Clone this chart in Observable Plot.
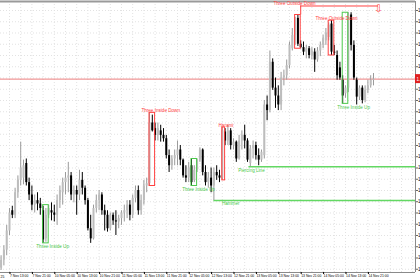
<!DOCTYPE html>
<html><head><meta charset="utf-8">
<script src="https://cdn.jsdelivr.net/npm/d3@7"></script>
<script src="https://cdn.jsdelivr.net/npm/@observablehq/plot@0.6"></script>
<style>html,body{margin:0;padding:0;background:#fff;overflow:hidden}</style>
</head><body><div id="chart"></div>
<script>
// Hourly OHLC, prices in 1/10000 units (pips)
const openPips  = [12331,12338,12347,12364,12382,12378,12398,12409,12411,12424,12407,12396,12387,12391,12388,12382,12357,12378,12382,12380,12378,12391,12398,12407,12411,12413,12396,12400,12396,12409,12402,12391,12366,12357,12384,12391,12396,12382,12378,12366,12378,12373,12372,12375,12380,12382,12387,12378,12393,12400,12382,12391,12404,12406,12460,12455,12449,12453,12449,12446,12431,12422,12428,12431,12436,12427,12413,12411,12422,12409,12418,12427,12436,12416,12407,12411,12404,12416,12413,12411,12452,12444,12453,12440,12443,12428,12444,12449,12444,12424,12437,12440,12431,12427,12431,12476,12471,12514,12491,12484,12476,12500,12502,12511,12526,12538,12553,12530,12527,12523,12526,12520,12523,12516,12524,12529,12533,12536,12548,12523,12520,12509,12498,12486,12491,12556,12529,12498,12483,12491,12480,12489,12493,12498];
const highPips  = [12342,12351,12369,12384,12386,12402,12413,12443,12427,12428,12411,12404,12396,12398,12393,12386,12384,12387,12389,12387,12396,12404,12411,12416,12425,12416,12404,12404,12418,12416,12404,12393,12378,12387,12396,12400,12398,12387,12382,12380,12380,12382,12378,12382,12387,12391,12391,12396,12404,12404,12396,12409,12411,12469,12467,12460,12460,12458,12455,12449,12436,12431,12436,12444,12440,12428,12422,12425,12428,12422,12428,12438,12437,12422,12416,12420,12420,12422,12418,12456,12455,12458,12455,12446,12444,12449,12453,12458,12446,12440,12444,12443,12437,12436,12480,12484,12524,12517,12500,12493,12505,12507,12516,12532,12544,12554,12556,12533,12532,12529,12528,12527,12526,12527,12532,12538,12544,12549,12551,12529,12524,12514,12502,12493,12558,12558,12533,12500,12493,12493,12493,12498,12502,12504];
const lowPips   = [12329,12333,12342,12360,12375,12375,12393,12404,12405,12404,12391,12382,12380,12382,12378,12353,12354,12375,12373,12372,12369,12384,12387,12396,12398,12391,12389,12378,12391,12396,12387,12364,12353,12356,12380,12382,12378,12364,12363,12364,12369,12360,12366,12369,12372,12375,12373,12375,12389,12378,12378,12387,12398,12404,12452,12444,12444,12443,12443,12428,12416,12418,12422,12422,12422,12411,12407,12407,12404,12407,12416,12425,12413,12404,12402,12398,12391,12409,12407,12409,12440,12440,12436,12436,12425,12427,12436,12437,12425,12421,12428,12427,12422,12425,12428,12462,12469,12489,12473,12471,12471,12493,12498,12508,12524,12529,12528,12526,12520,12517,12517,12516,12505,12514,12519,12526,12529,12533,12520,12520,12498,12498,12477,12482,12487,12524,12498,12476,12480,12477,12478,12486,12491,12493];
const closePips = [12338,12347,12364,12380,12378,12398,12409,12420,12422,12407,12396,12387,12391,12388,12384,12356,12378,12384,12380,12378,12391,12400,12407,12411,12413,12396,12400,12396,12409,12402,12391,12366,12357,12384,12391,12396,12382,12378,12366,12378,12373,12372,12375,12380,12382,12387,12378,12393,12400,12382,12391,12404,12406,12460,12453,12449,12455,12449,12446,12431,12422,12428,12431,12436,12427,12413,12411,12420,12407,12418,12427,12436,12416,12407,12411,12404,12416,12413,12411,12453,12444,12453,12440,12443,12428,12444,12449,12444,12427,12437,12440,12431,12427,12434,12476,12471,12514,12491,12484,12476,12500,12502,12511,12529,12538,12551,12530,12527,12523,12526,12520,12524,12516,12524,12529,12535,12540,12547,12523,12522,12502,12500,12484,12491,12556,12529,12500,12483,12491,12480,12489,12493,12498,12499];

const timeLabels = ["7 Nov 13:00","7 Nov 21:00","10 Nov 05:00","10 Nov 13:00","10 Nov 21:00","11 Nov 05:00","11 Nov 13:00","11 Nov 21:00","12 Nov 05:00","12 Nov 13:00","12 Nov 21:00","13 Nov 05:00","13 Nov 13:00","13 Nov 21:00","14 Nov 05:00","14 Nov 13:00","14 Nov 21:00"];
const timeLabelBars = [3,11,19,27,35,43,51,59,67,75,83,91,99,107,115,123,131];
const gridBars = [3,7,11,15,19,23,27,31,35,39,43,47,51,55,59,63,67,71,75,79,83,87,91,95,99,103,107,111,115,119,123,127,131,135,139,143,147];
const priceTicks = [1.2560,1.2550,1.2540,1.2530,1.2520,1.2510,1.2500,1.2490,1.2480,1.2470,1.2460,1.2450,1.2440,1.2430,1.2420,1.2410,1.2400,1.2390,1.2380,1.2370,1.2360,1.2350,1.2340,1.2330];
const currentPrice = 1.2499;

const patternNames = ["Three Inside Up","Three Inside Down","Three Inside Up","Harami","Three Outside Down","Three Outside Down","Three Inside Up"];
const patternStart = [15,53,68,79,105,117,122];
const patternEnd   = [17,55,70,80,107,119,124];
const patternKind  = ["bull","bear","bull","bear","bear","bear","bull"];
const patternLabelAt = [18.4,57,70.5,80.3,104.8,119.8,125.9];

const levelNames = ["Hammer","Piercing Line"];
const levelFrom = [76,88.5];
const levelPips = [12391,12421];
const levelLabelAt = [82,89.4];

const arrowLine = {from:107, to:134.8, price:1.2564};

const RED = "#ff4040", GREEN = "#4cc94c";
const bars = openPips.map((o,i)=>({i, o:o/1e4, h:highPips[i]/1e4, l:lowPips[i]/1e4, c:closePips[i]/1e4, up: closePips[i] >= o}));
const patterns = patternNames.map((name,k)=>{
  const s = patternStart[k], e = patternEnd[k];
  const hi = d3.max(highPips.slice(s,e+1))/1e4;
  return {name, s, e, kind: patternKind[k], at: patternLabelAt[k],
    hi, lo: d3.min(lowPips.slice(s,e+1))/1e4,
    labelY: k === 4 ? arrowLine.price : hi,
    color: patternKind[k]==="bull" ? GREEN : RED};
});
const levels = levelNames.map((name,k)=>({name, from: levelFrom[k], price: levelPips[k]/1e4, at: levelLabelAt[k]}));
const labelMap = new Map(timeLabelBars.map((b,k)=>[b,timeLabels[k]]));
const XMAX = 148.0;

const chart = Plot.plot({
  width: 420, height: 280,
  marginLeft: 0, marginRight: 5, marginTop: 1, marginBottom: 8,
  style: {fontFamily: "Liberation Sans, Arial, sans-serif", background: "#fff"},
  x: {domain: [-0.214, XMAX], axis: null},
  y: {domain: [1.23271, 1.25680], axis: null},
  marks: [
    Plot.ruleY(priceTicks, {stroke: "#e2e2e2", strokeDasharray: "1,2"}),
    Plot.ruleX(gridBars, {stroke: "#e2e2e2", strokeDasharray: "1,2"}),
    Plot.ruleY([1.25680], {stroke: "#9a9a9a", strokeWidth: 2}),
    Plot.ruleX([XMAX], {stroke: "#8a8a8a"}),
    Plot.ruleY([1.23271], {stroke: "#8a8a8a"}),
    Plot.ruleY([currentPrice], {stroke: "#ee7f7f", strokeWidth: 1}),
    Plot.ruleY(levels, {y: "price", x1: "from", x2: XMAX, stroke: "#63d863", strokeWidth: 1.5}),
    Plot.ruleX(bars, {x: "i", y1: "l", y2: "h", stroke: d => d.up ? "#9a9a9a" : "#000", strokeWidth: 1}),
    Plot.ruleX(bars, {x: "i", y1: "o", y2: "c", stroke: d => d.up ? "#bdbdbd" : "#000", strokeWidth: 2}),
    Plot.rect(patterns, {x1: "s", x2: "e", y1: "lo", y2: "hi", fill: "none", stroke: "color", strokeWidth: 1}),
    Plot.text(patterns.filter(p => p.kind === "bull"), {x: "at", y: "lo", dy: 1.5, lineAnchor: "top", text: "name", fill: "color", fontSize: 4.6}),
    Plot.text(patterns.filter(p => p.kind === "bear"), {x: "at", y: "labelY", dy: -0.6, lineAnchor: "bottom", text: "name", fill: "color", fontSize: 4.6}),
    Plot.text(levels, {x: "at", y: "price", dy: 1.5, text: "name", fill: GREEN, fontSize: 4.6, lineAnchor: "top"}),
    Plot.ruleX([arrowLine], {x: "from", y1: patterns[4].hi, y2: "price", stroke: RED}),
    Plot.ruleY([arrowLine], {y: "price", x1: "from", x2: "to", stroke: RED}),
    Plot.text([arrowLine], {x: "to", y: "price", text: d => "⇩", fill: RED, fontSize: 10, fontFamily: "DejaVu Sans", lineAnchor: "top", dy: -1}),
    Plot.axisY(priceTicks, {anchor: "right", tickSize: 2, tickPadding: 0.5, fontSize: 4.5, stroke: "#666", tickFormat: d => d.toFixed(4)}),
    Plot.axisX(timeLabelBars, {anchor: "bottom", tickSize: 2, tickPadding: 0.5, fontSize: 3.4, textAnchor: "start", dx: 0.5, tickFormat: d => labelMap.get(d)}),
    Plot.text(["25"], {frameAnchor: "bottom-left", dy: 5, text: d => d, fontSize: 3.4, textAnchor: "start"}),
    Plot.rect([currentPrice], {x1: XMAX, x2: XMAX + 3, y1: d => d - 0.0004, y2: d => d + 0.0004, fill: "#e02020"}),
    Plot.text([currentPrice], {x: XMAX, y: d => d, dx: 1, text: d => d.toFixed(4), fill: "#fff", fontSize: 4.5, textAnchor: "start"})
  ]
});
document.getElementById("chart").append(chart);
</script></body></html>
